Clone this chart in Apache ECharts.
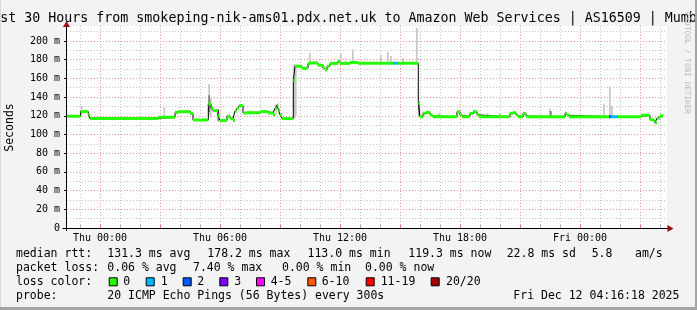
<!DOCTYPE html>
<html><head><meta charset="utf-8">
<script src="https://cdn.jsdelivr.net/npm/echarts@6/dist/echarts.min.js"></script>
<style>html,body{margin:0;padding:0;background:#f3f3f3}#c{width:697px;height:310px}</style>
</head><body><div id="c"></div>
<script>
// ---------- data ----------
const titleText = 'Last 30 Hours from smokeping-nik-ams01.pdx.net.uk to Amazon Web Services | AS16509 | Mumbai';
const xStart = -1.65, xEnd = 28.35;           // hours relative to Thu 00:00
const tickHours = [0, 6, 12, 18, 24];
const tickLabels = ['Thu 00:00', 'Thu 06:00', 'Thu 12:00', 'Thu 18:00', 'Fri 00:00'];
const hourGrid = [-1,0,1,2,3,4,5,6,7,8,9,10,11,12,13,14,15,16,17,18,19,20,21,22,23,24,25,26,27,28];
const majorHourGrid = [0,3,6,9,12,15,18,21,24,27];
const yTicks = [0,20,40,60,80,100,120,140,160,180,200];
const yMinor = [10,30,50,70,90,110,130,150,170,190,210];
const yMax = 216;

// median rtt (ms) step segments: start hour, value, loss class
const medianT = [-1.65,-0.97,-0.585,-0.5,2.915,3.75,3.9,4.5,4.65,5.415,5.55,5.65,5.9,6.0,6.35,6.5,6.65,6.75,6.85,6.95,7.15,7.35,8.0,8.4,8.65,8.75,8.85,8.925,9.0,9.1,9.665,9.75,10.1,10.4,10.5,10.9,11.15,11.25,11.35,11.5,11.9,12.0,12.5,12.9,14.65,14.9,15.915,16.0,16.15,16.3,16.5,16.6,16.65,17.85,18.0,18.1,18.5,18.65,18.85,18.95,20.5,20.65,20.8,20.9,21.15,21.3,21.4,23.25,23.35,23.45,25.45,25.55,25.9,27.05,27.5,27.65,27.75,27.85,28.0];
const medianV = [119.5,124.5,121,117,118.4,123.5,124.4,122.5,115.5,132.6,128,125.5,120,115,119.6,117,115,125,128,130.8,123,123.3,124.4,123,121,128,131.5,126,121,117,158,173,170.8,176,176.5,174,171,169,173,176,178.2,176,177,176.2,176.2,176.2,133,119,122.6,123.7,121,120,119,124.4,121,119,122.6,124.4,121,119,122.6,123.3,121,119,122.6,119.6,119,122.6,120.5,119,119,119,119,120.5,116,114.8,112.6,117.6,119.8];
const medianLoss = [0,0,0,0,0,0,0,0,0,0,0,0,0,0,0,0,0,0,0,0,0,0,0,0,0,0,0,0,0,0,0,0,0,0,0,0,0,0,0,0,0,0,0,0,1,0,0,0,0,0,0,0,0,0,0,0,0,0,0,0,0,0,0,0,0,0,0,0,0,0,2,1,0,0,0,0,0,0,0];
const medianEnd = 28.15;

// smoke (ping spread) bars: hour, low ms, high ms, shade
const smokeT  = [-0.965,3.175,5.415,5.415,5.5,5.875,8.75,9.665,9.75,10.45,12.0,12.6,14.0,14.35,14.5,15.1,15.8,15.915,16.9,19.35,19.95,22.45,22.5,25.15,25.45,25.55,28.1];
const smokeLo = [120,118,120,124,118,114,121,117,120,175,175,176,175,175,175,175,176,120,119,119,119,119,119,119,119,119,119];
const smokeHi = [130.5,129,154,142,139,127,132,175,174,187,186,191,185,188,184,182,214,135,123,123,123,128,125,132.6,151,130.5,122.5];
const smokeShade = [0,0,0,1,0,1,0,0,0,0,0,0,0,0,0,0,0,1,0,0,0,0,1,0,0,0,0];

const lossLabels = ['0','1','2','3','4-5','6-10','11-19','20/20'];
const lossColors = ['#26ff00','#00b8ff','#0059ff','#7e00ff','#ff00ff','#ff5500','#ff0000','#a10000'];

const statsRow1 = ['median rtt:','131.3 ms avg','178.2 ms max','113.0 ms min','119.3 ms now','22.8 ms sd','5.8','am/s'];
const statsRow2 = ['packet loss:','0.06 % avg','7.40 % max','0.00 % min','0.00 % now'];
const probeRow  = ['probe:','20 ICMP Echo Pings (56 Bytes) every 300s','Fri Dec 12 04:16:18 2025'];
const lossRowLabel = 'loss color:';
const sideText = 'RRDTOOL / TOBI OETIKER';

// ---------- layout ----------
const FONT = '"DejaVu Sans Mono", monospace';
const row1X = [16,107.3,207.3,307.5,408.3,506.7,591.7,635];
const row2X = [16,107.3,193,282,365];
const probeX = [16,107.3,513.3];
const boxX = [108.7,145.7,182.7,219.3,256,307.3,365.7,430.7];
const lblX = [123.3,160.7,197.3,234.3,270.7,321.7,380.7,446];
const rowY = [254.3,268.3,282.3,296.3];
const smokeColors = ['#c6c6c6','#7d7d7d'];

const chart = echarts.init(document.getElementById('c'), null, {renderer:'canvas'});

const medianLineData = medianT.map((t,i)=>[t, medianV[i]]).concat([[medianEnd, medianV[medianV.length-1]]]);
const segData = medianT.map((t,i)=>[t, i+1<medianT.length ? medianT[i+1] : medianEnd, medianV[i], medianLoss[i]]);
const smokeData = smokeT.map((t,i)=>[t, smokeLo[i], smokeHi[i], smokeShade[i]]);

const txt = (x,y,s,extra)=>Object.assign({type:'text', x:x, y:y, silent:true,
  style:{text:s, font:'11.5px '+FONT, fill:'#000', textVerticalAlign:'middle'}}, extra||{});

const graphics = [];
graphics.push({type:'text', x:348.5, y:19, silent:true, style:{text:titleText, font:'13.3px '+FONT, fill:'#000', textAlign:'center', textVerticalAlign:'middle'}});
graphics.push({type:'text', x:10, y:127.5, rotation:Math.PI/2, silent:true, style:{text:'Seconds', font:'11.5px '+FONT, fill:'#000', textAlign:'center', textVerticalAlign:'middle'}});
graphics.push({type:'text', x:687, y:63, rotation:-Math.PI/2, silent:true, style:{text:sideText, font:'7.7px '+FONT, fill:'#b8b8b8', textAlign:'center', textVerticalAlign:'middle'}});
statsRow1.forEach((s,i)=>graphics.push(txt(row1X[i], rowY[0], s)));
statsRow2.forEach((s,i)=>graphics.push(txt(row2X[i], rowY[1], s)));
graphics.push(txt(16, rowY[2], lossRowLabel));
lossLabels.forEach((s,i)=>{
  graphics.push({type:'rect', silent:true, shape:{x:boxX[i]+0.5, y:rowY[2]-4.5, width:8, height:8}, style:{fill:lossColors[i], stroke:'#000', lineWidth:1}});
  graphics.push(txt(lblX[i], rowY[2], s));
});
probeRow.forEach((s,i)=>graphics.push(txt(probeX[i], rowY[3], s)));
// axes lines and arrows
graphics.push({type:'line', silent:true, z:50, shape:{x1:62.5, y1:228.5, x2:668, y2:228.5}, style:{stroke:'#000', lineWidth:1}});
graphics.push({type:'line', silent:true, z:50, shape:{x1:66.5, y1:231, x2:66.5, y2:26}, style:{stroke:'#000', lineWidth:1}});
graphics.push({type:'polygon', silent:true, z:51, shape:{points:[[667.5,225],[667.5,232],[673.5,228.5]]}, style:{fill:'#9b1010'}});
graphics.push({type:'polygon', silent:true, z:51, shape:{points:[[63,27],[70,27],[66.5,21]]}, style:{fill:'#9b1010'}});
// frame
graphics.push({type:'rect', silent:true, z:60, shape:{x:695, y:0, width:2, height:310}, style:{fill:'#a4a4a4'}});
graphics.push({type:'rect', silent:true, z:60, shape:{x:0, y:307, width:697, height:3}, style:{fill:'#a4a4a4'}});
graphics.push({type:'rect', silent:true, z:60, shape:{x:0, y:0, width:1, height:307}, style:{fill:'#dadada'}});

const grayDot = {show:true, lineStyle:{color:'#c4c4c4', width:1, type:[1,2]}};
const redDot  = {show:true, lineStyle:{color:'#f29a9a', width:1, type:[1,2]}};

chart.setOption({
  animation:false,
  backgroundColor:'#f3f3f3',
  grid:{left:67, right:30, top:26, bottom:82, show:true, backgroundColor:'#ffffff', borderWidth:0},
  xAxis:[
    {type:'value', min:xStart, max:xEnd, position:'bottom', axisLine:{show:false, onZero:false},
     axisTick:{show:true, inside:true, length:3, customValues:hourGrid, lineStyle:{color:'#b0b0b0'}},
     axisLabel:{show:false}, splitLine:grayDot},
    {type:'value', min:xStart, max:xEnd, position:'bottom', axisLine:{show:false, onZero:false},
     axisTick:{show:true, inside:true, length:3, customValues:majorHourGrid, lineStyle:{color:'#f07070'}},
     axisLabel:{show:false}, splitLine:redDot},
    {type:'value', min:xStart, max:xEnd, position:'bottom', axisLine:{show:false, onZero:false},
     axisTick:{show:false, customValues:tickHours},
     axisLabel:{show:true, customValues:tickHours, margin:5, color:'#000', fontFamily:'DejaVu Sans Mono', fontSize:10,
       formatter:(v)=>{const i=tickHours.indexOf(Math.round(v)); return i>=0?tickLabels[i]:'';}},
     splitLine:{show:false}}
  ],
  yAxis:[
    {type:'value', min:0, max:yMax, position:'left', axisLine:{show:false, onZero:false},
     axisTick:{show:false, customValues:yMinor}, axisLabel:{show:false}, splitLine:grayDot},
    {type:'value', min:0, max:yMax, position:'left', offset:0, axisLine:{show:false, onZero:false},
     axisTick:{show:true, length:3, customValues:yTicks, lineStyle:{color:'#000'}},
     axisLabel:{show:true, customValues:yTicks, margin:7, color:'#000', fontFamily:'DejaVu Sans Mono', fontSize:10,
       formatter:(v)=>v===0?'0':(v+' m')},
     splitLine:redDot}
  ],
  series:[
    {type:'custom', xAxisIndex:2, yAxisIndex:1, z:3, silent:true, data:smokeData,
     renderItem:(params, api)=>{
       const p0 = api.coord([api.value(0), api.value(2)]);
       const p1 = api.coord([api.value(0)+1/12, api.value(1)]);
       return {type:'rect', shape:{x:p0[0], y:p0[1], width:Math.max(1,p1[0]-p0[0]), height:p1[1]-p0[1]},
               style:{fill:smokeColors[api.value(3)]}};
     }},
    {type:'line', xAxisIndex:2, yAxisIndex:1, z:4, step:'end', showSymbol:false, silent:true,
     data:medianLineData, lineStyle:{color:'#000', width:1}},
    {type:'custom', xAxisIndex:2, yAxisIndex:1, z:5, silent:true, data:segData,
     renderItem:(params, api)=>{
       const a = api.coord([api.value(0), api.value(2)]);
       const b = api.coord([api.value(1), api.value(2)]);
       return {type:'line', shape:{x1:a[0], y1:a[1], x2:b[0], y2:b[1]},
               style:{stroke:lossColors[api.value(3)], lineWidth:3, lineCap:'butt'}};
     }}
  ],
  graphic:graphics
});
</script></body></html>
